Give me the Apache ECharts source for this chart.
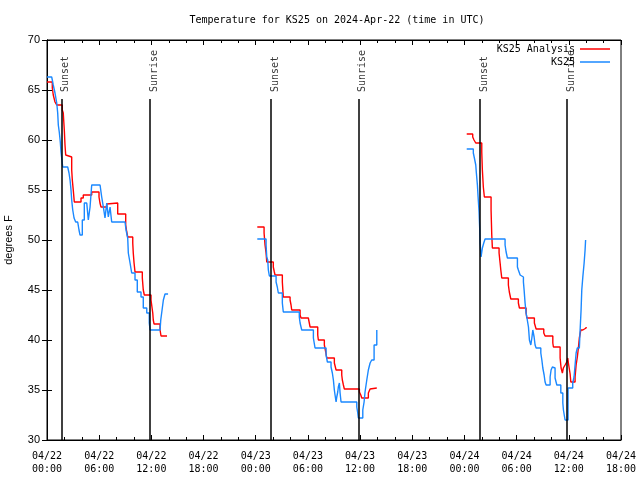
<!DOCTYPE html>
<html>
<head>
<meta charset="utf-8">
<script src="https://cdn.jsdelivr.net/npm/echarts@6/dist/echarts.min.js"></script>
<style>html,body{margin:0;padding:0;background:#fff}#c{width:640px;height:480px}</style>
</head>
<body>
<div id="c"></div>
<script>
// ---- data (hours since 04/22 00:00 UTC, degrees F) ----
const xTickLabels = ['04/22\n00:00','04/22\n06:00','04/22\n12:00','04/22\n18:00','04/23\n00:00','04/23\n06:00','04/23\n12:00','04/23\n18:00','04/24\n00:00','04/24\n06:00','04/24\n12:00','04/24\n18:00'];

const redH1 = [0.00,0.61,0.72,0.92,1.12,1.76,1.87,1.99,2.07,2.15,2.27,2.84,2.91,3.02,3.14,3.91,4.17,5.14,5.98,6.09,6.21,6.87,7.05,8.13,9.05,9.17,9.28,9.86,9.92,10.01,10.12,10.96,11.07,11.19,11.96,12.16,12.22,12.31,13.00,13.11,13.80];
const redT1 = [65.8,65.2,64.5,63.8,63.5,63.0,62.7,61.0,59.5,58.5,58.3,57.0,56.0,55.0,53.8,54.2,54.5,54.8,54.3,53.7,53.3,53.6,53.7,52.6,51.5,50.8,50.3,49.7,48.7,47.7,46.8,46.2,45.0,44.5,44.0,42.7,42.0,41.6,41.0,40.4,40.4];

const redH2 = [24.18,24.96,25.07,25.19,25.27,26.02,26.14,26.22,27.06,27.17,27.95,28.06,28.14,29.10,29.21,30.05,30.16,30.25,31.13,31.20,31.89,32.05,32.17,33.04,33.24,33.89,33.96,34.08,34.19,35.92,36.08,36.19,36.95,37.15,37.26,37.92];
const redT2 = [51.3,50.7,49.5,48.7,47.8,47.3,46.8,46.5,45.8,44.3,44.0,43.5,43.0,42.5,42.2,42.0,41.7,41.3,40.5,40.0,39.5,38.8,38.2,37.7,37.0,36.5,36.0,35.5,35.1,34.8,34.5,34.2,34.7,35.1,35.2,35.2];

const redH3 = [48.26,48.95,49.10,49.30,49.99,50.06,50.17,50.29,51.06,51.14,51.21,51.98,52.10,52.18,52.29,53.05,53.16,53.33,54.20,54.32,55.09,55.17,56.04,56.24,57.12,57.27,58.16,58.23,59.00,59.11,59.26,59.37,59.57,59.76,59.88,59.95,60.15,60.23,60.72,60.84,60.98,61.10,61.21,61.38,61.61,61.99];
const redT3 = [60.6,60.3,60.0,59.7,58.8,57.0,55.3,54.3,53.0,50.5,49.2,48.7,47.7,47.0,46.2,45.5,44.8,44.1,43.7,43.2,42.7,42.2,41.7,41.1,40.7,40.4,39.7,39.3,38.2,37.2,36.7,37.2,37.5,37.8,38.2,37.7,36.6,35.8,36.3,37.5,38.3,39.2,40.2,41.0,41.2,41.3];

const blueH1 = [0.00,0.54,0.61,0.72,0.92,1.12,1.23,1.30,1.41,1.53,1.61,1.69,1.81,2.38,2.53,2.65,2.76,2.84,2.96,3.11,3.30,3.53,3.68,3.80,4.06,4.29,4.57,4.75,4.95,5.14,6.10,6.29,6.48,6.67,6.87,7.05,7.25,7.44,8.97,9.09,9.28,9.35,9.55,9.74,10.12,10.38,10.81,11.07,11.47,11.76,11.85,13.00,13.08,13.23,13.38,13.57,13.92];
const blueT1 = [66.3,66.3,66.0,65.5,64.7,63.7,62.7,61.5,60.8,59.8,58.8,58.2,57.3,57.3,56.7,56.0,55.0,54.0,53.0,52.2,51.8,51.7,51.0,50.5,52.0,53.7,53.7,52.0,53.3,55.5,55.5,54.3,53.3,52.2,53.7,52.3,53.3,51.8,51.8,51.0,50.2,48.7,47.7,46.7,46.0,44.8,44.3,43.2,42.7,41.7,41.0,41.0,42.0,43.0,44.0,44.6,44.6];

const blueH2 = [24.18,25.19,25.27,25.38,25.45,25.57,26.34,26.48,26.60,27.06,27.17,29.01,29.10,29.29,30.63,30.82,32.09,32.24,32.66,32.81,32.93,33.04,33.12,33.24,33.32,33.43,33.50,33.62,33.70,33.81,35.62,35.73,35.80,36.31,36.46,36.57,36.77,36.95,37.15,37.34,37.61,37.92];
const blueT2 = [50.1,49.5,48.3,48.0,47.0,46.4,45.8,45.3,44.7,43.7,42.8,42.3,41.7,41.0,40.2,39.2,38.5,37.8,37.3,36.7,36.0,35.0,34.5,33.8,34.3,34.8,35.3,35.7,34.7,33.8,33.3,32.7,32.2,33.0,33.8,34.8,36.0,37.0,37.7,38.0,39.5,41.0];

const blueH3 = [48.26,49.02,49.14,49.30,49.37,49.49,49.57,49.68,49.76,49.80,49.91,50.06,50.22,50.37,52.67,52.79,52.94,54.09,54.20,54.40,54.59,54.78,54.86,54.97,55.09,55.17,55.36,55.47,55.63,55.75,55.86,56.01,56.12,56.24,56.78,56.90,57.01,57.16,57.27,57.39,57.85,57.96,58.11,58.23,58.42,58.62,59.08,59.31,59.38,59.57,59.91,60.45,60.60,60.72,60.84,60.98,61.21,61.30,61.41,61.49,61.61,61.76,61.87,61.93];
const blueT3 = [59.1,58.7,58.2,57.5,56.7,55.5,54.3,52.8,51.0,49.7,48.3,49.2,49.7,50.1,49.5,48.8,48.2,47.3,47.0,46.5,46.3,45.8,45.0,43.7,42.7,42.3,41.3,40.0,39.5,40.2,41.0,40.3,39.5,39.2,38.7,38.0,37.2,36.5,35.8,35.5,36.3,37.0,37.3,37.2,36.2,35.5,34.7,33.7,33.0,32.0,35.2,35.7,36.3,37.5,38.7,39.2,39.3,41.0,43.0,45.0,46.3,47.7,49.0,50.0];

const sunHours = [1.65, 11.87, 25.77, 35.83, 49.80, 59.80];
const sunNames = ['Sunset','Sunrise','Sunset','Sunrise','Sunset','Sunrise'];
const sunLineTop = 64.1;
const sunLabelY = 64.8;

// ---- build ----
function zip(h, t) { const n = Math.min(h.length, t.length); const o = []; for (let i = 0; i < n; i++) o.push([h[i], t[i]]); return o; }
const RED = '#ff0000', BLUE = '#1a88ff';
const mono = 'DejaVu Sans Mono';
const sans = 'Liberation Sans';

function lineSeries(name, color, data) {
  return { name, type: 'line', step: 'end', data, showSymbol: false, symbol: 'none', color,
    lineStyle: { color, width: 1.4 }, animation: false, silent: true, xAxisIndex: 0, yAxisIndex: 0 };
}

const series = [
  lineSeries('KS25 Analysis', RED, zip(redH1, redT1)),
  lineSeries('KS25 Analysis', RED, zip(redH2, redT2)),
  lineSeries('KS25 Analysis', RED, zip(redH3, redT3)),
  lineSeries('KS25', BLUE, zip(blueH1, blueT1)),
  lineSeries('KS25', BLUE, zip(blueH2, blueT2)),
  lineSeries('KS25', BLUE, zip(blueH3, blueT3)),
  {
    name: 'sun', type: 'scatter', symbolSize: 0, animation: false, silent: true,
    data: sunHours.map((h, i) => [h, sunLabelY, sunNames[i]]),
    label: { show: true, position: 'inside', rotate: 90, align: 'left', verticalAlign: 'top', lineHeight: 8,
      formatter: p => p.data[2], fontFamily: mono, fontSize: 10, color: '#000' },
    markLine: { silent: true, symbol: 'none', animation: false,
      lineStyle: { color: '#000', width: 1.5, type: 'solid' }, label: { show: false },
      data: sunHours.map(h => [{ coord: [h, 30] }, { coord: [h, sunLineTop] }]) }
  }
];

const common = { type: 'value', min: 0, max: 66, interval: 6, splitLine: { show: false } };
const chart = echarts.init(document.getElementById('c'), null, { renderer: 'canvas' });
chart.setOption({
  backgroundColor: '#fff',
  animation: false,
  title: { text: 'Temperature for KS25 on 2024-Apr-22 (time in UTC)', left: 332, textAlign: 'center', top: 10,
    textStyle: { fontFamily: mono, fontSize: 10, fontWeight: 'normal', color: '#000' } },
  legend: { data: ['KS25 Analysis', 'KS25'], orient: 'vertical', right: 30, top: 43, align: 'right', padding: 0,
    icon: 'rect', itemWidth: 30, itemHeight: 1.5, itemGap: 1,
    textStyle: { fontFamily: mono, fontSize: 10, color: '#000', lineHeight: 12 } },
  grid: { left: 47, right: 19, top: 40, bottom: 40, show: true, borderColor: '#000', borderWidth: 1,
    containLabel: false, outerBoundsMode: 'none' },
  xAxis: [
    Object.assign({}, common, { position: 'bottom',
      axisLine: { lineStyle: { color: '#000', width: 1 } },
      axisTick: { inside: true, length: 5, lineStyle: { color: '#000' } },
      minorTick: { show: true, splitNumber: 3, length: 3, lineStyle: { color: '#000' } },
      axisLabel: { margin: 10, fontFamily: mono, fontSize: 10, color: '#000', lineHeight: 13,
        formatter: v => xTickLabels[Math.round(v / 6)] || '' } }),
    Object.assign({}, common, { position: 'top',
      axisLine: { lineStyle: { color: '#000', width: 1 } },
      axisTick: { inside: true, length: 5, lineStyle: { color: '#000' } },
      minorTick: { show: true, splitNumber: 3, length: 3, lineStyle: { color: '#000' } },
      axisLabel: { show: false } })
  ],
  yAxis: [
    { type: 'value', min: 30, max: 70, interval: 5, position: 'left', splitLine: { show: false },
      axisLine: { show: true, lineStyle: { color: '#000', width: 1 } },
      axisTick: { inside: true, length: 5, lineStyle: { color: '#000' } },
      axisLabel: { margin: 7, fontFamily: sans, fontSize: 11, color: '#000' },
      name: 'degrees F', nameLocation: 'middle', nameGap: 33,
      nameTextStyle: { fontFamily: sans, fontSize: 11, color: '#000' } },
    { type: 'value', min: 30, max: 70, interval: 5, position: 'right', splitLine: { show: false },
      axisLine: { show: true, lineStyle: { color: '#000', width: 1 } },
      axisTick: { inside: true, length: 5, lineStyle: { color: '#000' } },
      axisLabel: { show: false } }
  ],
  series
});
</script>
</body>
</html>
